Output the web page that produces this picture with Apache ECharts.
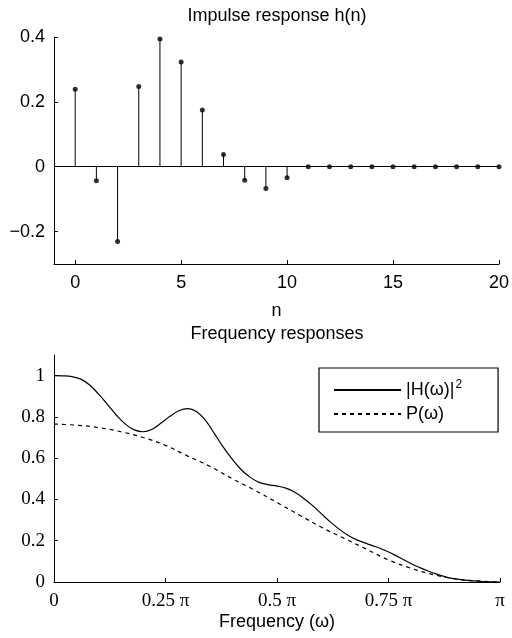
<!DOCTYPE html>
<html>
<head>
    <meta charset='utf-8' />
    <title>stem + freq</title>
</head>
<body style='margin:0;width:512px;height:638px;background:#fff;'>
<div id='chart' style='width:512px;height:638px;'></div>

<script src="https://cdn.jsdelivr.net/npm/echarts@6.0.0/dist/echarts.min.js"></script>
<script type='text/javascript'>
    // impulse response h(n)
    var nIdx = [0, 1, 2, 3, 4, 5, 6, 7, 8, 9, 10, 11, 12, 13, 14, 15, 16, 17, 18, 19, 20];
    var hVals = [0.239, -0.043, -0.231, 0.247, 0.394, 0.323, 0.175, 0.038, -0.042, -0.067, -0.034,
        0, 0, 0, 0, 0, 0, 0, 0, 0, 0];
    var nTicks = [0, 5, 10, 15, 20];
    var hTicks = [-0.2, 0, 0.2, 0.4];

    // frequency responses, w in units of pi
    var wH = [0, 0.02, 0.04, 0.06, 0.08, 0.10, 0.12, 0.14, 0.16, 0.18, 0.20, 0.22, 0.24, 0.26, 0.28,
        0.30, 0.32, 0.34, 0.36, 0.38, 0.40, 0.42, 0.44, 0.46, 0.48, 0.50, 0.52, 0.54, 0.56, 0.58,
        0.60, 0.62, 0.64, 0.66, 0.68, 0.70, 0.72, 0.74, 0.76, 0.78, 0.80, 0.82, 0.84, 0.86, 0.88,
        0.90, 0.92, 0.94, 0.96, 0.98, 1.0];
    var hSq = [1.0, 0.999, 0.995, 0.983, 0.955, 0.91, 0.86, 0.808, 0.765, 0.737, 0.728, 0.74, 0.77, 0.803, 0.83,
        0.84, 0.825, 0.782, 0.718, 0.652, 0.594, 0.544, 0.507, 0.483, 0.472, 0.465, 0.455, 0.435, 0.405, 0.37,
        0.33, 0.29, 0.255, 0.225, 0.203, 0.187, 0.172, 0.155, 0.135, 0.113, 0.09, 0.07, 0.052, 0.037, 0.024,
        0.015, 0.009, 0.005, 0.002, 0.0005, 0];
    var wP = [0, 0.05, 0.10, 0.15, 0.20, 0.25, 0.30, 0.35, 0.40, 0.45, 0.50, 0.55, 0.60, 0.65, 0.70,
        0.75, 0.80, 0.85, 0.90, 0.95, 1.0];
    var pVals = [0.765, 0.76, 0.748, 0.728, 0.70, 0.662, 0.61, 0.56, 0.50, 0.445, 0.385, 0.325, 0.265, 0.212, 0.16,
        0.107, 0.067, 0.036, 0.015, 0.005, 0];
    var wTicks = [0.25, 0.5, 0.75, 1];
    var wLabels = [0, 0.25, 0.5, 0.75, 1];
    var pTicks = [0.2, 0.4, 0.6, 0.8, 1];
    var pLabels = [0, 0.2, 0.4, 0.6, 0.8, 1];

    var sans = 'Liberation Sans';
    var serif = 'Liberation Serif';

    var stemData = nIdx.map(function (n, i) { return [n, hVals[i]]; });

    var axisBase = {
        axisLine: { show: true, onZero: false, lineStyle: { color: '#000', width: 1 } },
        splitLine: { show: false }
    };

    var option = {
        animation: false,
        backgroundColor: '#fff',
        graphic: [
            { type: 'text', x: 277, y: 16, style: { text: 'Impulse response h(n)', font: '18px ' + sans, fill: '#000', textAlign: 'center', textVerticalAlign: 'middle' } },
            { type: 'text', x: 277, y: 334, style: { text: 'Frequency responses', font: '18px ' + sans, fill: '#000', textAlign: 'center', textVerticalAlign: 'middle' } }
        ],
        grid: [
            { left: 54, right: 12, top: 37, height: 227 },
            { left: 54, right: 12, top: 355, height: 227 }
        ],
        legend: {
            orient: 'vertical',
            left: 319, top: 368,
            padding: [11, 36, 9, 14],
            itemGap: 6,
            itemWidth: 67, itemHeight: 14,
            borderColor: '#000', borderWidth: 1.2,
            backgroundColor: '#fff',
            itemStyle: { color: 'rgba(0,0,0,0)', borderColor: 'rgba(0,0,0,0)', borderWidth: 0 },
            data: ['H', 'P'],
            formatter: function (name) {
                return name === 'H' ? '|H(\u03c9)|{sup|2}' : 'P(\u03c9)';
            },
            textStyle: {
                fontFamily: sans, fontSize: 18, color: '#000',
                rich: { sup: { fontFamily: sans, fontSize: 12, color: '#000', verticalAlign: 'top', padding: [0, 0, 10, 1] } }
            }
        },
        xAxis: [
            Object.assign({}, axisBase, {
                gridIndex: 0, type: 'value', min: -1, max: 20,
                name: 'n', nameLocation: 'middle', nameGap: 38,
                nameTextStyle: { fontFamily: sans, fontSize: 18, color: '#000' },
                axisTick: { show: true, inside: true, length: 4, lineStyle: { color: '#000' }, customValues: nTicks },
                axisLabel: { customValues: nTicks, fontFamily: sans, fontSize: 18, color: '#000', margin: 10 }
            }),
            Object.assign({}, axisBase, {
                gridIndex: 1, type: 'value', min: 0, max: 1,
                name: 'Frequency (\u03c9)', nameLocation: 'middle', nameGap: 31,
                nameTextStyle: { fontFamily: sans, fontSize: 18, color: '#000' },
                axisTick: { show: true, inside: true, length: 4, lineStyle: { color: '#000' }, customValues: wTicks },
                axisLabel: {
                    customValues: wLabels, fontFamily: serif, fontSize: 19, color: '#000', margin: 10,
                    formatter: function (v) {
                        if (v === 0) return '0';
                        if (v === 1) return '\u03c0';
                        return v + ' \u03c0';
                    }
                }
            })
        ],
        yAxis: [
            Object.assign({}, axisBase, {
                gridIndex: 0, type: 'value', min: -0.3, max: 0.4,
                axisTick: { show: true, inside: true, length: 4, lineStyle: { color: '#000' }, customValues: hTicks },
                axisLabel: {
                    customValues: hTicks, fontFamily: sans, fontSize: 18, color: '#000', margin: 9,
                    formatter: function (v) { return v < 0 ? '\u2212' + Math.abs(v) : String(v); }
                }
            }),
            Object.assign({}, axisBase, {
                gridIndex: 1, type: 'value', min: 0, max: 1.1,
                axisTick: { show: true, inside: true, length: 4, lineStyle: { color: '#000' }, customValues: pTicks },
                axisLabel: {
                    customValues: pLabels, fontFamily: serif, fontSize: 19, color: '#000', margin: 9,
                    formatter: function (v) { return String(v); }
                }
            })
        ],
        series: [
            {
                name: 'stems', type: 'custom', xAxisIndex: 0, yAxisIndex: 0,
                data: stemData,
                renderItem: function (params, api) {
                    var p0 = api.coord([api.value(0), 0]);
                    var p1 = api.coord([api.value(0), api.value(1)]);
                    return {
                        type: 'line',
                        shape: { x1: p0[0], y1: p0[1], x2: p1[0], y2: p1[1] },
                        style: { stroke: '#000', lineWidth: 1 }
                    };
                }
            },
            {
                name: 'dots', type: 'scatter', xAxisIndex: 0, yAxisIndex: 0,
                data: stemData, symbolSize: 5,
                itemStyle: { color: '#000' },
                z: 3,
                markLine: {
                    silent: true, symbol: ['none', 'none'],
                    label: { show: false },
                    lineStyle: { color: '#000', type: 'solid', width: 1 },
                    data: [{ yAxis: 0 }]
                }
            },
            {
                name: 'H', type: 'line', xAxisIndex: 1, yAxisIndex: 1,
                data: wH.map(function (w, i) { return [w, hSq[i]]; }),
                smooth: 0.4, symbol: 'none',
                lineStyle: { color: '#000', width: 1.2 },
                itemStyle: { color: '#000' }
            },
            {
                name: 'P', type: 'line', xAxisIndex: 1, yAxisIndex: 1,
                data: wP.map(function (w, i) { return [w, pVals[i]]; }),
                smooth: true, symbol: 'none',
                lineStyle: { color: '#000', width: 1.2, type: [4, 4] },
                itemStyle: { color: '#000' }
            }
        ]
    };

    var myChart = echarts.init(document.getElementById('chart'));
    myChart.setOption(option);
</script>
</body>
</html>
